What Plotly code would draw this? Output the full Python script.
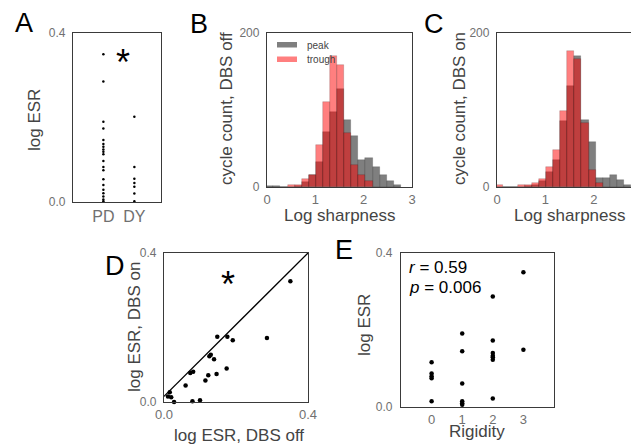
import plotly.graph_objects as go

# ---------------- data ----------------
# Panel A: log ESR per subject group
pd_esr = [0.350, 0.285, 0.190, 0.174, 0.147, 0.137, 0.131, 0.124, 0.119, 0.113,
          0.097, 0.083, 0.075, 0.054, 0.040, 0.029, 0.021, 0.013, 0.006, 0.002]
dy_esr = [0.202, 0.083, 0.055, 0.045, 0.036, 0.020, 0.002]
group_labels = ["PD", "DY"]

# Panels B, C: histograms of log sharpness (bin index -> count)
bin_start = -0.015
bin_width = 0.1466
peak_off = [1, 1, 0, 0, 1, 6, 15, 32, 72, 98, 127, 87, 66, 35, 38, 26, 16, 8, 3]
trough_off = [0, 0, 0, 2, 3, 10, 15, 55, 111, 170, 158, 70, 29, 16, 8, 0, 0, 0, 0]
peak_on = [0, 0, 0, 0, 1, 3, 8, 20, 35, 86, 131, 170, 87, 59, 12, 12, 15, 9, 3]
trough_on = [2, 0, 0, 3, 2, 5, 10, 26, 48, 99, 177, 166, 83, 22, 5, 0, 0, 0, 0]

# Panel D: log ESR DBS off vs on
esr_off = [0.351, 0.286, 0.148, 0.176, 0.191, 0.130, 0.126, 0.139, 0.174, 0.146,
           0.123, 0.115, 0.081, 0.073, 0.060, 0.016, 0.011, 0.020, 0.079, 0.100, 0.028]
esr_on = [0.324, 0.172, 0.175, 0.175, 0.166, 0.127, 0.123, 0.115, 0.090, 0.075,
          0.072, 0.058, 0.081, 0.078, 0.044, 0.026, 0.015, 0.013, 0.002, 0.005, 0.0]
fit_x = [0.0, 0.4]
fit_y = [0.015, 0.4]

# Panel E: rigidity vs log ESR
rigidity = [0, 0, 0, 0, 0, 1, 1, 1, 1, 1, 1, 2, 2, 2, 2, 2, 2, 2, 3, 3]
esr_rig = [0.116, 0.087, 0.080, 0.075, 0.015, 0.191, 0.145, 0.061, 0.015, 0.010, 0.006,
           0.287, 0.173, 0.140, 0.133, 0.129, 0.123, 0.022, 0.350, 0.149]
r_text = "<i>r</i> = 0.59"
p_text = "<i>p</i> = 0.006"

# ---------------- helpers ----------------
# the page body adds an 8px offset, so the figure is 8px smaller and all
# layout positions are expressed in window pixels minus that offset
OFF = 8
W, H = 639 - OFF, 447 - OFF
def px(x):
    return (x - OFF) / W
def py(y):
    return 1 - (y - OFF) / H

FONT = "Liberation Sans, Arial, sans-serif"
LINE = "#3a3a3a"
TICKC = "#707070"
TITLEC = "#444444"

bin_centers = [bin_start + bin_width * (i + 0.5) for i in range(len(peak_off))]

fig = go.Figure()

# A
fig.add_trace(go.Scatter(x=[0] * len(pd_esr), y=pd_esr, mode="markers",
                         marker=dict(color="black", size=2.5), xaxis="x", yaxis="y",
                         showlegend=False, cliponaxis=False))
fig.add_trace(go.Scatter(x=[1] * len(dy_esr), y=dy_esr, mode="markers",
                         marker=dict(color="black", size=2.5), xaxis="x", yaxis="y",
                         showlegend=False, cliponaxis=False))

# B and C
edge = dict(width=0.6, color="rgba(0,0,0,0.25)")
for (pk, tr, xa, ya) in [(peak_off, trough_off, "x2", "y2"), (peak_on, trough_on, "x3", "y3")]:
    fig.add_trace(go.Bar(x=bin_centers, y=pk, width=bin_width, name="peak",
                         marker=dict(color="rgba(0,0,0,0.5)", line=edge),
                         xaxis=xa, yaxis=ya, showlegend=False))
    fig.add_trace(go.Bar(x=bin_centers, y=tr, width=bin_width, name="trough",
                         marker=dict(color="rgba(255,0,0,0.5)", line=edge),
                         xaxis=xa, yaxis=ya, showlegend=False))

# D
fig.add_trace(go.Scatter(x=fit_x, y=fit_y, mode="lines", line=dict(color="black", width=1.3),
                         xaxis="x4", yaxis="y4", showlegend=False))
fig.add_trace(go.Scatter(x=esr_off, y=esr_on, mode="markers",
                         marker=dict(color="black", size=4.5), xaxis="x4", yaxis="y4",
                         showlegend=False, cliponaxis=False))

# E
fig.add_trace(go.Scatter(x=rigidity, y=esr_rig, mode="markers",
                         marker=dict(color="black", size=4.5), xaxis="x5", yaxis="y5",
                         showlegend=False, cliponaxis=False))

def ax(domain, rng, tickvals, ticktext=None, anchor=None, mirror=True, size=12, fmt=None, standoff=0):
    d = dict(domain=domain, range=rng, tickvals=tickvals, showline=True, mirror=mirror,
             linecolor=LINE, linewidth=1.3, showgrid=False, zeroline=False, automargin=False,
             ticks="", tickfont=dict(family=FONT, size=size, color=TICKC), anchor=anchor,
             ticklabelstandoff=standoff)
    if ticktext is not None:
        d["ticktext"] = ticktext
    if fmt:
        d["tickformat"] = fmt
    return d

fig.update_layout(
    template="none",
    width=W, height=H, margin=dict(l=0, r=0, t=0, b=0, pad=0, autoexpand=False),
    paper_bgcolor="white", plot_bgcolor="white", barmode="overlay", bargap=0,
    showlegend=False,
    font=dict(family=FONT),
    xaxis=ax([px(73), px(161)], [-0.98, 1.86], [0, 1], group_labels, anchor="y", size=16),
    yaxis=ax([py(202), py(33)], [0, 0.4], [0, 0.4], anchor="x", fmt=".1f", standoff=4),
    xaxis2=ax([px(267), px(412)], [0, 3], [0, 1, 2, 3], anchor="y2", size=13),
    yaxis2=ax([py(187), py(33)], [0, 200], [0, 200], anchor="x2", standoff=4),
    xaxis3=ax([px(497), 1.0], [0, (639 - 497) / 48.4], [0, 1, 2], anchor="y3", size=13),
    yaxis3=ax([py(187), py(33)], [0, 200], [0, 200], anchor="x3", mirror=False, standoff=4),
    xaxis4=ax([px(164), px(308)], [0, 0.4], [0, 0.4], anchor="y4", size=13, fmt=".1f"),
    yaxis4=ax([py(402), py(253)], [0, 0.4], [0, 0.4], anchor="x4", fmt=".1f", standoff=4),
    xaxis5=ax([px(401), px(554)], [-1, 4], [0, 1, 2, 3], anchor="y5", size=13),
    yaxis5=ax([py(407), py(253)], [0, 0.4], [0, 0.4], anchor="x5", fmt=".1f", standoff=5),
)

ann = []
def text(x, y, s, size, color=TITLEC, angle=0, xanchor="center", yanchor="middle"):
    ann.append(dict(x=px(x), y=py(y), xref="paper", yref="paper", text=s, showarrow=False,
                    font=dict(family=FONT, size=size, color=color), textangle=angle,
                    xanchor=xanchor, yanchor=yanchor))

# panel letters
for (lx, ly, s) in [(24, 23, "A"), (199, 24, "B"), (434, 24, "C"), (115, 266, "D"), (344, 250, "E")]:
    text(lx, ly, s, 27, color="black")

# axis titles
text(35, 120, "log ESR", 17, angle=-90)
text(226, 109, "cycle count, DBS off", 17, angle=-90)
text(340, 215, "Log sharpness", 17)
text(459, 109, "cycle count, DBS on", 17, angle=-90)
text(570, 215, "Log sharpness", 17)
text(134, 327, "log ESR, DBS on", 17, angle=-90)
text(239, 435, "log ESR, DBS off", 17)
text(364, 325, "log ESR", 17, angle=-90)
text(477, 431, "Rigidity", 17)

# stats text
text(407, 267, r_text, 17, color="black", xanchor="left")
text(407, 287, p_text, 17, color="black", xanchor="left")

# asterisks
text(123, 63, "*", 36, color="black")
text(228, 284, "*", 36, color="black")

# legend for B
text(305, 45, "peak", 10, xanchor="left")
text(305, 59.5, "trough", 10, xanchor="left")
fig.update_layout(annotations=ann, shapes=[
    dict(type="rect", xref="paper", yref="paper", x0=px(277), x1=px(297), y0=py(47.5), y1=py(42),
         fillcolor="rgba(0,0,0,0.5)", line=dict(width=0)),
    dict(type="rect", xref="paper", yref="paper", x0=px(277), x1=px(297), y0=py(62), y1=py(56.5),
         fillcolor="rgba(255,0,0,0.5)", line=dict(width=0)),
])

fig.write_html("out.html")
